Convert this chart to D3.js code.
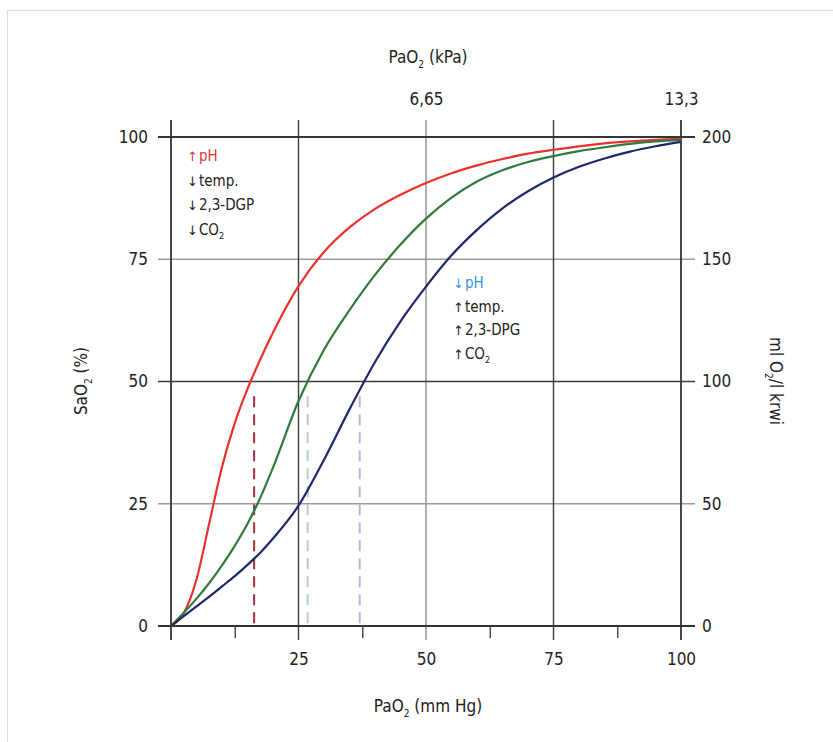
<!DOCTYPE html>
<html>
<head>
<meta charset="utf-8">
<script src="https://cdn.jsdelivr.net/npm/d3@7"></script>
<style>
  body { margin: 0; background: #fff; }
  text { font-family: "DejaVu Sans Condensed", "Liberation Sans Narrow", "Liberation Sans", sans-serif; fill: #222; }
</style>
</head>
<body>
<script>
// values (PaO2 in mm Hg, SaO2 in %)
const pao2       = [0, 2.5, 5, 7.5, 10, 12.5, 15, 17.5, 20, 25, 30, 35, 40, 45, 50, 55, 60, 65, 70, 75, 80, 85, 90, 95, 100];
const satLeft    = [0, 2.6, 9.5, 21, 32.5, 41.5, 48.5, 54.5, 60, 69.5, 76.5, 81.5, 85.3, 88.2, 90.6, 92.6, 94.2, 95.5, 96.6, 97.4, 98.1, 98.7, 99.1, 99.4, 99.6];
const satNormal  = [0, 2.7, 5.6, 8.8, 12.4, 16.4, 20.9, 26.2, 32.4, 46, 56.5, 64.6, 71.8, 78, 83.3, 87.6, 90.9, 93.2, 94.9, 96.1, 97.1, 97.9, 98.6, 99.1, 99.4];
const satRight   = [0, 2, 4, 6, 8.1, 10.2, 12.5, 15, 17.9, 24.6, 34, 44.3, 54, 62.3, 69.4, 75.8, 81, 85.4, 88.9, 91.7, 93.9, 95.6, 97, 98.1, 99];
const curveNames = ["left", "normal", "right"];
const p50        = [16.3, 26.8, 37];

const bottomTicks = [25, 50, 75, 100];
const minorTicks  = [12.5, 37.5, 62.5, 87.5];
const leftTicks   = [0, 25, 50, 75, 100];
const rightTicks  = [0, 50, 100, 150, 200];
const kpaAt       = [50, 100];
const kpaLabels   = ["6,65", "13,3"];

const leftNotes  = [["↑", "pH", ""], ["↓", "temp.", ""], ["↓", "2,3-DGP", ""], ["↓", "CO", "2"]];
const rightNotes = [["↓", "pH", ""], ["↑", "temp.", ""], ["↑", "2,3-DPG", ""], ["↑", "CO", "2"]];

let W = 833, H = 742;
let colors = { left: "#e8322b", normal: "#2f7a3c", right: "#1e276b" };
let dashColors = { left: "#a3313c", normal: "#b9c9cc", right: "#b7b6d6" };

let x = d3.scaleLinear().domain([0, 100]).range([171, 681]);
let y = d3.scaleLinear().domain([0, 100]).range([626, 137]);
let y2 = d3.scaleLinear().domain([0, 200]).range([626, 137]);

let svg = d3.select("body").append("svg")
  .attr("width", W).attr("height", H);

// frame of the original scan
svg.append("rect")
  .attr("x", 7.5).attr("y", 10.5).attr("width", 900).attr("height", 900)
  .attr("fill", "none").attr("stroke", "#dcdcdc").attr("stroke-width", 1.2);

// grid, light ones first
let grid = svg.append("g");
[25, 75].forEach(v => {
  grid.append("line").attr("x1", 158).attr("x2", 695).attr("y1", y(v)).attr("y2", y(v))
    .attr("stroke", "#9a9a9a").attr("stroke-width", 1.4);
});
grid.append("line").attr("x1", x(50)).attr("x2", x(50)).attr("y1", 120).attr("y2", 640)
  .attr("stroke", "#8e8e8e").attr("stroke-width", 1.4);
[25, 75].forEach(v => {
  grid.append("line").attr("x1", x(v)).attr("x2", x(v)).attr("y1", 120).attr("y2", 640)
    .attr("stroke", "#3c3c3c").attr("stroke-width", 1.4);
});
grid.append("line").attr("x1", 158).attr("x2", 695).attr("y1", y(50)).attr("y2", y(50))
  .attr("stroke", "#3c3c3c").attr("stroke-width", 1.5);
[0, 100].forEach(v => {
  grid.append("line").attr("x1", 158).attr("x2", 695).attr("y1", y(v)).attr("y2", y(v))
    .attr("stroke", "#333").attr("stroke-width", 1.8);
  grid.append("line").attr("x1", x(v)).attr("x2", x(v)).attr("y1", 120).attr("y2", 640)
    .attr("stroke", "#333").attr("stroke-width", 1.8);
});

// minor ticks below the x axis
svg.append("g").attr("transform", "translate(0," + y(0) + ")")
  .call(d3.axisBottom(x).tickValues(minorTicks).tickSize(12).tickFormat(""))
  .call(g => g.select(".domain").remove())
  .call(g => g.selectAll("line").attr("stroke", "#444").attr("stroke-width", 1.4));

// axis labels (ticks drawn by the grid above)
let fs = "17px";
svg.append("g").attr("transform", "translate(0," + y(0) + ")")
  .call(d3.axisBottom(x).tickValues(bottomTicks).tickSize(0).tickPadding(27))
  .call(g => g.select(".domain").remove())
  .call(g => g.selectAll("text").attr("font-size", fs).attr("font-family", null));

svg.append("g").attr("transform", "translate(171,0)")
  .call(d3.axisLeft(y).tickValues(leftTicks).tickSize(0).tickPadding(23))
  .call(g => g.select(".domain").remove())
  .call(g => g.selectAll("text").attr("font-size", fs).attr("font-family", null));

svg.append("g").attr("transform", "translate(681,0)")
  .call(d3.axisRight(y2).tickValues(rightTicks).tickSize(0).tickPadding(21))
  .call(g => g.select(".domain").remove())
  .call(g => g.selectAll("text").attr("font-size", fs).attr("font-family", null));

svg.append("g").attr("transform", "translate(0," + y(100) + ")")
  .call(d3.axisTop(x).tickValues(kpaAt).tickSize(0).tickPadding(32)
    .tickFormat((d, i) => kpaLabels[i]))
  .call(g => g.select(".domain").remove())
  .call(g => g.selectAll("text").attr("font-size", fs).attr("font-family", null));

// titles with subscript 2
function subLabel(g, parts, size) {
  let t = g.append("text").attr("text-anchor", "middle").attr("font-size", size);
  t.append("tspan").text(parts[0]);
  t.append("tspan").attr("dy", 5).attr("font-size", "10px").text(parts[1]);
  t.append("tspan").attr("dy", -5).text(parts[2]);
  return t;
}
subLabel(svg.append("g").attr("transform", "translate(428,63)"), ["PaO", "2", " (kPa)"], fs);
subLabel(svg.append("g").attr("transform", "translate(428,712)"), ["PaO", "2", " (mm Hg)"], fs);
subLabel(svg.append("g").attr("transform", "translate(87,381) rotate(-90)"), ["SaO", "2", " (%)"], fs);
subLabel(svg.append("g").attr("transform", "translate(770,381) rotate(90)"), ["ml O", "2", "/l krwi"], fs);

// P50 dashed drops
curveNames.forEach((c, i) => {
  svg.append("line")
    .attr("x1", x(p50[i])).attr("x2", x(p50[i]))
    .attr("y1", y(47)).attr("y2", y(0))
    .attr("stroke", dashColors[c]).attr("stroke-width", 2)
    .attr("stroke-dasharray", "11,7");
});

// dissociation curves
let series = { left: satLeft, normal: satNormal, right: satRight };
let line = d3.line()
  .x((d, i) => x(pao2[i]))
  .y(d => y(d))
  .curve(d3.curveMonotoneX);

curveNames.forEach(c => {
  svg.append("path")
    .attr("d", line(series[c]))
    .attr("fill", "none")
    .attr("stroke", colors[c])
    .attr("stroke-width", 2.2);
});

// annotations
function notes(list, x0, y0, dy, first) {
  list.forEach((n, i) => {
    let t = svg.append("text").attr("x", x0).attr("y", y0 + i * dy).attr("font-size", "15px");
    if (i == 0) t.style("fill", first);
    t.append("tspan").attr("font-family", "DejaVu Sans").attr("font-size", "13px").text(n[0]);
    t.append("tspan").attr("dx", 1).text(n[1]);
    if (n[2]) t.append("tspan").attr("dy", 4).attr("font-size", "9px").text(n[2]);
  });
}
notes(leftNotes, 187, 161, 24.5, "#e0343a");
notes(rightNotes, 453, 288, 23.5, "#3f8fe0");
</script>
</body>
</html>
